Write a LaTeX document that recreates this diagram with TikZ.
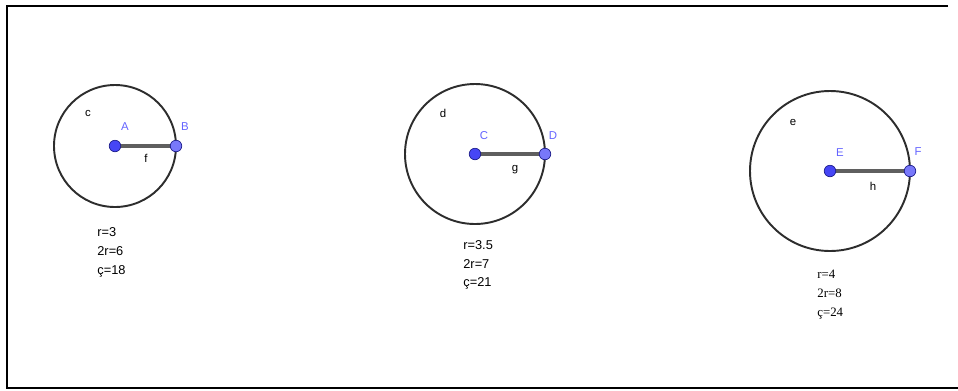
\documentclass[tikz,border=0pt]{standalone}
\usepackage{fontspec}
\setmainfont{Liberation Sans}
\newfontfamily\tmsfont{Liberation Serif}
\usetikzlibrary{backgrounds}
\definecolor{ptline}{RGB}{30,30,140}
\definecolor{ctrfill}{RGB}{70,70,245}
\definecolor{rimfill}{RGB}{120,120,250}
\definecolor{ptlabel}{RGB}{100,100,255}
\definecolor{rimline}{RGB}{45,45,45}
\definecolor{segline}{RGB}{95,95,95}
\begin{document}
\begin{tikzpicture}[x=0.02cm,y=-0.02cm,
  ctr/.style={circle,draw=ptline,fill=ctrfill,line width=0.4pt,inner sep=0pt,minimum size=0.23cm},
  edge/.style={ctr,fill=rimfill},
  rim/.style={draw=rimline,line width=1.1pt},
  seg/.style={draw=segline,line width=1.9pt},
  ptname/.style={text=ptlabel,font=\fontsize{6.5}{7}\selectfont},
  objname/.style={font=\fontsize{6.5}{7}\selectfont},
  info/.style={anchor=base west,inner sep=0pt,font=\fontsize{7.3}{8}\selectfont}]
\useasboundingbox (0,0) rectangle (958,390);
\draw[line width=1.5pt] (948,6)--(7,6)--(7,388)--(958,388);
% r=3
\node[ctr] (A) at (115,146) {};
\node[edge] (B) at (176,146) {};
% r=3.5
\node[ctr] (C) at (475,154) {};
\node[edge] (D) at (545,154) {};
% r=4
\node[ctr] (E) at (830,171) {};
\node[edge] (F) at (910,171) {};
\begin{scope}[on background layer]
\draw[rim] (A) circle[radius=61];
\draw[rim] (C) circle[radius=70];
\draw[rim] (E) circle[radius=80];
\draw[seg] (A.center)--(B.center);
\draw[seg] (C.center)--(D.center);
\draw[seg] (E.center)--(F.center);
\end{scope}
\node[ptname] (nA) at (125,127) {A};
\node[ptname] (nB) at (185,127) {B};
\node[ptname] (nC) at (484,136) {C};
\node[ptname] (nD) at (553,136) {D};
\node[ptname] (nE) at (840,153) {E};
\node[ptname] (nF) at (918,152) {F};
\node[objname] (nc) at (88,113) {c};
\node[objname] (nf) at (146,158) {f};
\node[objname] (nd) at (443,113) {d};
\node[objname] (ng) at (515,170) {g};
\node[objname] (ne) at (793,122) {e};
\node[objname] (nh) at (873,186) {h};
\node[info] (r1) at (97,236) {r=3};
\node[info] (d1) at (97,255) {2r=6};
\node[info] (c1) at (97,274) {ç=18};
\node[info] (r2) at (463,249) {r=3.5};
\node[info] (d2) at (463,268) {2r=7};
\node[info] (c2) at (463,286) {ç=21};
\node[info,font=\tmsfont\fontsize{7.3}{8}\selectfont] (r3) at (817,278) {r=4};
\node[info,font=\tmsfont\fontsize{7.3}{8}\selectfont] (d3) at (817,297) {2r=8};
\node[info,font=\tmsfont\fontsize{7.3}{8}\selectfont] (c3) at (817,316) {ç=24};
\end{tikzpicture}
\end{document}
